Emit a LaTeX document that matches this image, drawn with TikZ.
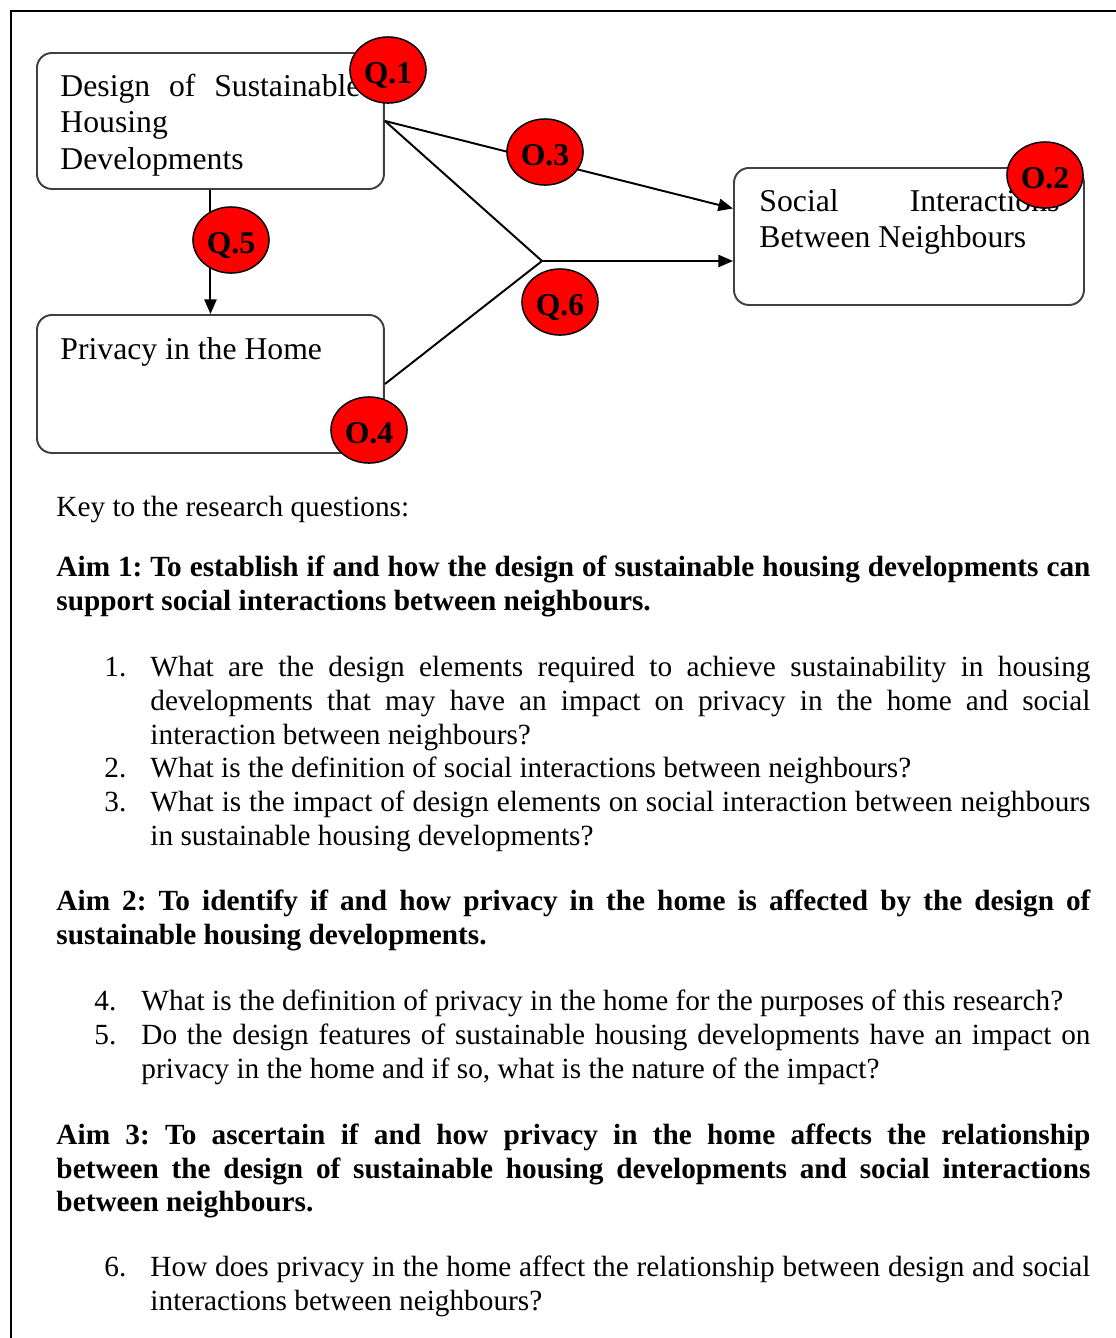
\documentclass[tikz,border=0pt]{standalone}
\usepackage{fontspec}
\setmainfont{Liberation Serif}
\usetikzlibrary{arrows.meta,shapes.geometric,calc}
\newdimen\pxu \pxu=0.41pt
\newcommand\JustLine[2]{\makebox[#1\pxu][s]{#2}}
\begin{document}
\frenchspacing
\begin{tikzpicture}[x=0.41pt,y=-0.41pt,
  box/.style={draw=black!75, line width=0.8pt, rounded corners=6.15pt, anchor=north west, inner sep=0pt},
  conn/.style={draw=black, line width=0.8pt},
  arr/.style={conn, -{Triangle[length=6pt,width=5pt]}},
  qmark/.style={ellipse, draw=black, line width=0.6pt, fill=red, minimum width=31.2pt, minimum height=27.1pt, inner sep=0pt, text height=12pt, text depth=1pt, font=\fontsize{13}{15}\selectfont\bfseries},
  boxtxt/.style={anchor=base west, inner sep=0pt, font=\fontsize{13}{15}\selectfont},
  txt/.style={anchor=base west, inner sep=0pt, font=\fontsize{12}{14}\selectfont},
  bold/.style={anchor=base west, inner sep=0pt, font=\fontsize{12}{14}\selectfont\bfseries}]
\useasboundingbox (0,0) rectangle (1116,1338);
% frame
\draw[line width=1.2pt] (11,1338) -- (11,11) -- (1116,11);

% boxes
\node[box, minimum width=142.27pt, minimum height=55.76pt] (design) at (36,52) {};
\node[box, minimum width=142.27pt, minimum height=56.58pt] (privacy) at (36,314) {};
\node[box, minimum width=143.5pt, minimum height=56.17pt] (social) at (733,167) {};

\node[boxtxt] (d1) at (60,96) {\JustLine{300}{Design of Sustainable}};
\node[boxtxt] (d2) at (60,132) {Housing};
\node[boxtxt] (d3) at (60,169) {Developments};
\node[boxtxt] (p1) at (60,359) {Privacy in the Home};
\node[boxtxt] (s1) at (759,211) {\JustLine{300}{Social Interactions}};
\node[boxtxt] (s2) at (759,247) {Between Neighbours};

% connectors
\coordinate (j) at (542,261);
\draw[arr] (design.east) -- ($(social.west)+(0,-28)$);
\draw[conn] (design.east) -- (j);
\draw[conn] (privacy.east) -- (j);
\draw[arr] (j) -- (j -| social.west);
\draw[arr] (design.south) -- (privacy.north);

% question markers
\node[qmark] (q1) at (388,70) {Q.1};
\node[qmark] (q3) at (545,152) {O.3};
\node[qmark] (q6) at (560,302) {Q.6};
\node[qmark] (q2) at (1045,175) {O.2};
\node[qmark] (q4) at (369,430) {O.4};
\node[qmark] (q5) at (231,240) {Q.5};

% key text
\node[txt] (key) at (56,516) {Key to the research questions:};

\node[bold] (a1a) at (56,576) {\JustLine{1034}{Aim 1: To establish if and how the design of sustainable housing developments can}};
\node[bold] (a1b) at (56,610) {support social interactions between neighbours.};

\node[txt] (n1) at (104,676) {1.};
\node[txt] (l1a) at (150,676) {\JustLine{940}{What are the design elements required to achieve sustainability in housing}};
\node[txt] (l1b) at (150,710) {\JustLine{940}{developments that may have an impact on privacy in the home and social}};
\node[txt] (l1c) at (150,744) {interaction between neighbours?};
\node[txt] (n2) at (104,777) {2.};
\node[txt] (l2a) at (150,777) {What is the definition of social interactions between neighbours?};
\node[txt] (n3) at (104,811) {3.};
\node[txt] (l3a) at (150,811) {\JustLine{940}{What is the impact of design elements on social interaction between neighbours}};
\node[txt] (l3b) at (150,845) {in sustainable housing developments?};

\node[bold] (a2a) at (56,910) {\JustLine{1034}{Aim 2: To identify if and how privacy in the home is affected by the design of}};
\node[bold] (a2b) at (56,944) {sustainable housing developments.};

\node[txt] (n4) at (94,1010) {4.};
\node[txt] (l4a) at (141,1010) {What is the definition of privacy in the home for the purposes of this research?};
\node[txt] (n5) at (94,1044) {5.};
\node[txt] (l5a) at (141,1044) {\JustLine{949}{Do the design features of sustainable housing developments have an impact on}};
\node[txt] (l5b) at (141,1078) {privacy in the home and if so, what is the nature of the impact?};

\node[bold] (a3a) at (56,1144) {\JustLine{1034}{Aim 3: To ascertain if and how privacy in the home affects the relationship}};
\node[bold] (a3b) at (56,1178) {\JustLine{1034}{between the design of sustainable housing developments and social interactions}};
\node[bold] (a3c) at (56,1211) {between neighbours.};

\node[txt] (n6) at (104,1276) {6.};
\node[txt] (l6a) at (150,1276) {\JustLine{940}{How does privacy in the home affect the relationship between design and social}};
\node[txt] (l6b) at (150,1310) {interactions between neighbours?};
\end{tikzpicture}
\end{document}
